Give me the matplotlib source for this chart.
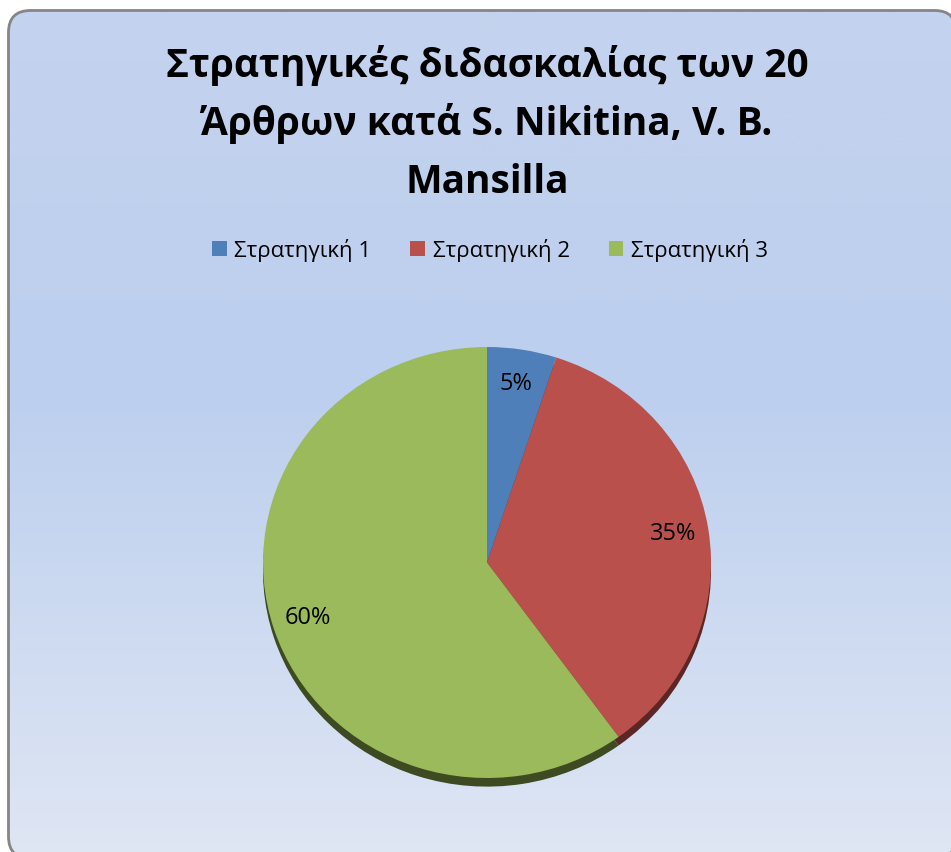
import numpy as np
import matplotlib
matplotlib.use("Agg")
import matplotlib.pyplot as plt
from matplotlib.patches import FancyBboxPatch, PathPatch, Patch
from matplotlib.path import Path
from matplotlib.colors import LinearSegmentedColormap

plt.rcParams['font.family'] = ['Open Sans', 'DejaVu Sans']

# data
strategies = ["Στρατηγική 1", "Στρατηγική 2", "Στρατηγική 3"]
shares = [5, 35, 60]
title_lines = ["Στρατηγικές διδασκαλίας των 20",
               "Άρθρων κατά S. Nikitina, V. B.",
               "Mansilla"]

colors = ["#4f7fb9", "#b9504c", "#9aba5c"]
dark_colors = ["#2c4766", "#5c2624", "#3d4a22"]

W, H = 951, 852
fig = plt.figure(figsize=(W / 100, H / 100), dpi=100)
ax = fig.add_axes([0, 0, 1, 1])

def py(y):
    # pixel row (from top) -> data y
    return H - y

# rounded chart area; flatten the corner curves to straight segments,
# Agg draws bezier corners that run off the canvas badly
rounded = FancyBboxPatch((8.5, py(858.5)), 948, 848,
                         boxstyle="round,pad=0,rounding_size=22")
outline = Path(rounded.get_path().to_polygons()[0], closed=True)
box = PathPatch(outline, facecolor="none", edgecolor="#858585", linewidth=2, zorder=3)
ax.add_patch(box)

# vertical gradient fill clipped to the rounded box
cmap = LinearSegmentedColormap.from_list(
    "bg", [(0.0, "#c4d3ee"), (0.45, "#bccfee"), (1.0, "#dfe6f4")])
grad = np.linspace(0, 1, 400).reshape(-1, 1)
img = ax.imshow(grad, cmap=cmap, extent=(8.5, 956.5, py(858.5), py(10.5)),
                origin='upper', aspect='auto', zorder=1)
img.set_clip_path(box)

# imshow rescales the axes, so fix the limits afterwards
ax.set_xlim(0, W)
ax.set_ylim(0, H)
ax.axis('off')

# title
for i, line in enumerate(title_lines):
    ax.text(487, py(77 + i * 58), line, ha='center', va='baseline',
            fontsize=28, fontweight='bold', color='black', zorder=4)

# legend
handles = [Patch(facecolor=c, edgecolor='none') for c in colors]
fig.legend(handles, strategies, loc='center', ncol=3, frameon=False,
           bbox_to_anchor=(490 / W, 1 - 250 / H), fontsize=16,
           handlelength=0.65, handleheight=0.65, handletextpad=0.35,
           columnspacing=1.75)

# pie, slightly tilted, with a dark rim below
pax = fig.add_axes([263 / W, 1 - 778 / H, 448 / W, 431 / H])
pax.pie(shares, colors=dark_colors, startangle=90, counterclock=False,
        center=(0, -0.04), wedgeprops=dict(linewidth=0))
wedges, _, autotexts = pax.pie(shares, colors=colors, startangle=90, counterclock=False,
                               autopct='%d%%', pctdistance=0.84,
                               wedgeprops=dict(linewidth=0),
                               textprops=dict(fontsize=17, color='black'))
pax.set_aspect('auto')
pax.set_xlim(-1, 1)
pax.set_ylim(-1, 1)
pax.axis('off')
for w in pax.patches:
    w.set_clip_on(False)

fig.savefig("out.png", dpi=100)
